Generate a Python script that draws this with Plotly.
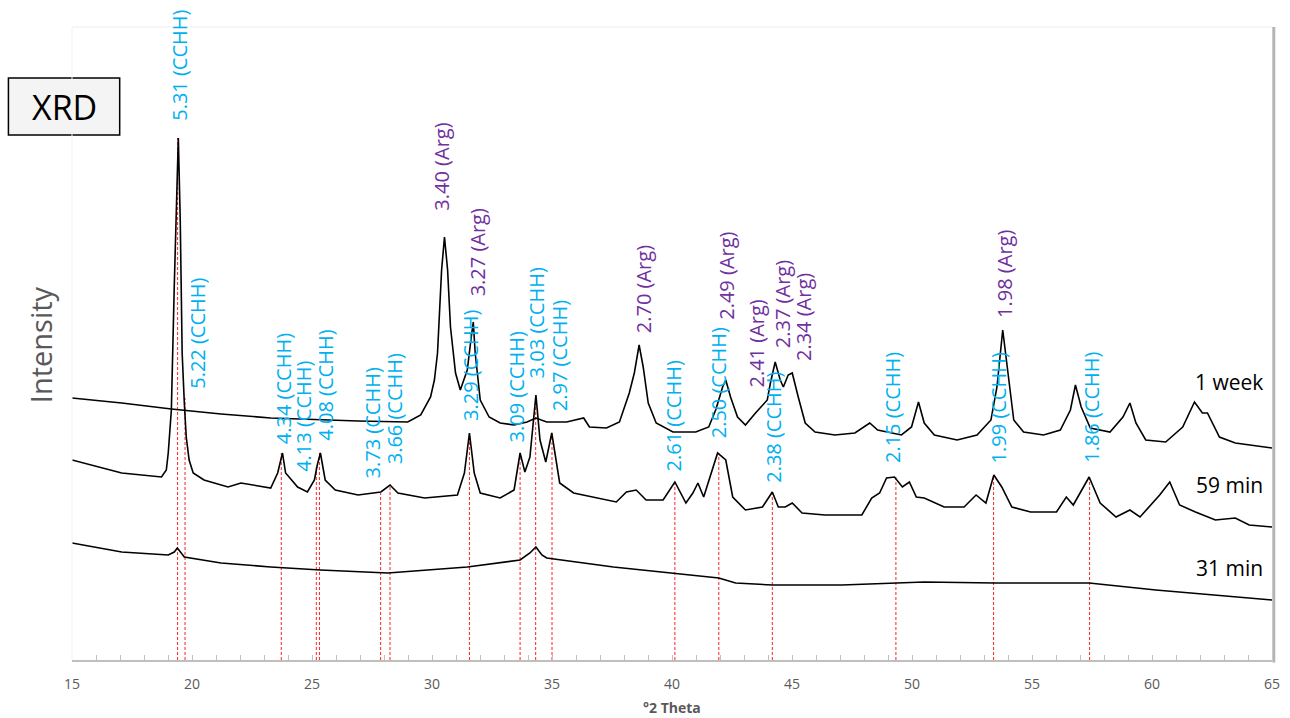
import plotly.graph_objects as go

# ---------------- data (°2θ, intensity in arbitrary units) ----------------
week_x = [15.00, 17.07, 19.14, 21.21, 23.28, 25.35, 26.92, 28.99, 29.53, 29.94, 30.10, 30.23, 30.40, 30.52,
          30.65, 30.77, 30.98, 31.18, 31.47, 31.62, 31.72, 31.80, 32.01, 32.38, 32.84, 33.42, 33.96, 34.33,
          34.78, 35.61, 36.32, 36.56, 37.27, 37.81, 38.22, 38.43, 38.63, 38.80, 39.01, 39.34, 40.04, 40.99,
          41.53, 41.82, 42.11, 42.24, 42.44, 42.73, 43.06, 43.48, 43.77, 43.97, 44.10, 44.30, 44.51, 44.64,
          44.84, 45.01, 45.26, 45.55, 45.96, 46.79, 47.62, 48.24, 48.57, 49.56, 49.98, 50.27, 50.51, 50.93,
          51.88, 52.71, 53.29, 53.54, 53.78, 53.99, 54.24, 54.65, 55.48, 56.18, 56.60, 56.81, 57.05, 57.43,
          58.25, 58.79, 59.08, 59.33, 59.74, 60.57, 61.28, 61.77, 62.10, 62.31, 62.81, 63.47, 65.00]
week_y = [262, 257, 251, 246, 242, 240, 239, 238, 245, 263, 280, 307, 390, 423,
          390, 333, 287, 270, 290, 320, 338, 307, 260, 243, 237, 235, 238, 242,
          238, 238, 242, 233, 232, 238, 267, 287, 315, 293, 257, 237, 228, 228,
          233, 250, 273, 280, 263, 243, 235, 247, 255, 260, 277, 298, 280, 273,
          285, 287, 263, 237, 228, 225, 227, 237, 230, 225, 233, 258, 237, 225,
          220, 225, 240, 273, 330, 287, 240, 228, 225, 230, 250, 275, 253, 232,
          228, 243, 257, 237, 220, 218, 233, 258, 247, 247, 223, 217, 212]

min59_x = [15.00, 17.07, 18.73, 18.93, 19.01, 19.14, 19.26, 19.39, 19.43, 19.51, 19.59, 19.68, 19.76, 19.88,
           20.05, 20.50, 21.50, 22.04, 23.28, 23.57, 23.77, 23.90, 24.40, 24.81, 25.10, 25.22, 25.35, 25.55,
           25.97, 26.92, 27.87, 28.25, 28.58, 29.69, 31.06, 31.35, 31.56, 31.76, 32.01, 32.84, 33.42, 33.67,
           33.87, 34.08, 34.33, 34.50, 34.74, 34.99, 35.20, 35.32, 35.90, 36.85, 37.68, 38.10, 38.51, 38.92,
           39.63, 40.12, 40.58, 40.87, 41.08, 41.32, 41.70, 41.90, 42.24, 42.53, 43.06, 43.77, 44.18, 44.43,
           44.72, 45.01, 45.42, 46.37, 47.91, 48.32, 48.65, 48.94, 49.27, 49.60, 49.89, 50.18, 50.51, 51.34,
           52.17, 52.67, 53.08, 53.41, 53.74, 54.16, 54.94, 56.02, 56.43, 56.72, 57.38, 57.84, 58.50, 59.08,
           59.50, 60.03, 60.32, 60.74, 61.15, 61.81, 62.64, 63.47, 64.05, 65.00]
min59_y = [200, 187, 183, 190, 207, 250, 373, 490, 522, 440, 307, 257, 223, 200,
           187, 180, 173, 177, 172, 187, 207, 187, 173, 168, 180, 195, 207, 180,
           170, 165, 168, 175, 167, 162, 165, 187, 227, 187, 167, 162, 170, 207,
           188, 203, 265, 220, 198, 227, 193, 177, 167, 162, 158, 168, 170, 160,
           160, 178, 157, 167, 177, 163, 193, 207, 200, 163, 150, 153, 168, 153,
           153, 157, 147, 145, 145, 162, 167, 182, 183, 173, 178, 163, 162, 153,
           153, 165, 157, 185, 173, 153, 148, 148, 163, 155, 183, 157, 143, 150,
           143, 157, 165, 178, 155, 148, 140, 142, 135, 133]

min31_x = [15.00, 17.07, 19.01, 19.26, 19.39, 19.51, 19.68, 21.21, 23.28, 25.35, 28.16, 31.47, 33.67, 34.08,
           34.33, 34.58, 34.78, 37.56, 40.12, 41.95, 42.65, 44.18, 47.08, 50.51, 53.45, 57.38, 60.16, 62.56,
           65.00]
min31_y = [117, 108, 105, 108, 112, 108, 103, 97, 93, 90, 87, 93, 100, 107,
           113, 105, 102, 93, 87, 82, 77, 75, 75, 78, 77, 77, 70, 65,
           60]

# CCHH reference lines (°2θ) and the height they reach
ref_x = [19.40, 19.71, 23.72, 25.18, 25.31, 27.86, 28.25, 31.56, 33.67, 34.32, 35.00, 40.12, 41.95, 44.18,
         49.33, 53.40, 57.40]
ref_top = [522, 262, 207, 195, 207, 167, 175, 227, 207, 265, 227, 178, 207, 168, 183, 185, 183]

# peak labels: text, x (°2θ), baseline of the rotated text (intensity units)
cchh_text = ["5.31 (CCHH)", "5.22 (CCHH)", "4.34 (CCHH)", "4.13 (CCHH)", "4.08 (CCHH)", "3.73 (CCHH)",
             "3.66 (CCHH)", "3.29 (CCHH)", "3.09 (CCHH)", "3.03 (CCHH)", "2.97 (CCHH)", "2.61 (CCHH)",
             "2.50 (CCHH)", "2.38 (CCHH)", "2.15 (CCHH)", "1.99 (CCHH)", "1.86 (CCHH)"]
cchh_x = [19.47, 20.22, 23.82, 24.64, 25.55, 27.54, 28.45, 31.60, 33.54, 34.37, 35.32, 40.08, 41.95, 44.22,
          49.19, 53.62, 57.47]
cchh_y = [537, 269, 214, 186, 217, 180, 194, 237, 216, 280, 247, 187, 220, 175, 195, 195, 195]

arg_text = ["3.40 (Arg)", "3.27 (Arg)", "2.70 (Arg)", "2.49 (Arg)", "2.41 (Arg)", "2.37 (Arg)",
            "2.34 (Arg)", "1.98 (Arg)"]
arg_x = [30.36, 31.89, 38.80, 42.24, 43.48, 44.59, 45.46, 53.83]
arg_y = [447, 362, 325, 338, 270, 310, 297, 340]

series_names = ["1 week", "59 min", "31 min"]
series_label_y = [278, 175, 92]

x_ticks = [15, 20, 25, 30, 35, 40, 45, 50, 55, 60, 65]

# ---------------- figure ----------------
FONT = "Open Sans"
CYAN = "#00b0f0"
PURPLE = "#7030a0"

fig = go.Figure()

rx, ry = [], []
for xv, tv in zip(ref_x, ref_top):
    rx += [xv, xv, None]
    ry += [0, tv, None]
fig.add_trace(go.Scatter(x=rx, y=ry, mode="lines",
                         line=dict(color="#ff2020", width=1, dash="3px,2px"),
                         hoverinfo="skip", showlegend=False))

for xs, ys in [(week_x, week_y), (min59_x, min59_y), (min31_x, min31_y)]:
    fig.add_trace(go.Scatter(x=xs, y=ys, mode="lines",
                             line=dict(color="black", width=1.6),
                             showlegend=False))

ann = []
for t, xv, yv in zip(cchh_text, cchh_x, cchh_y):
    ann.append(dict(x=xv, y=yv, xref="x", yref="y", text=t, textangle=-90, showarrow=False,
                    xanchor="center", yanchor="bottom", font=dict(family=FONT, size=20, color=CYAN)))
for t, xv, yv in zip(arg_text, arg_x, arg_y):
    ann.append(dict(x=xv, y=yv, xref="x", yref="y", text=t, textangle=-90, showarrow=False,
                    xanchor="center", yanchor="bottom", font=dict(family=FONT, size=20, color=PURPLE)))
for t, yv in zip(series_names, series_label_y):
    ann.append(dict(x=64.7, y=yv, xref="x", yref="y", text=t, showarrow=False,
                    xanchor="right", yanchor="middle", font=dict(family=FONT, size=21, color="black")))

ann.append(dict(x=-0.0265, y=0.4976, xref="paper", yref="paper", text="Intensity", textangle=-90,
                showarrow=False, xanchor="center", yanchor="middle",
                font=dict(family=FONT, size=29, color="#595959")))
ann.append(dict(x=0.5, y=-0.0758, xref="paper", yref="paper", text="<b>°2 Theta</b>",
                showarrow=False, xanchor="center", yanchor="middle",
                font=dict(family=FONT, size=14, color="#595959")))
ann.append(dict(x=-0.00662, y=0.8744, xref="paper", yref="paper", text="XRD",
                showarrow=False, xanchor="center", yanchor="middle",
                font=dict(family=FONT, size=34, color="black")))

shapes = [
    dict(type="rect", xref="paper", yref="paper", x0=-0.05298, x1=0.03974, y0=0.8294, y1=0.9194,
         line=dict(color="black", width=1.5), fillcolor="#f4f4f4", layer="above"),
    dict(type="line", xref="paper", yref="paper", x0=0, x1=1, y0=1, y1=1,
         line=dict(color="#eeeeee", width=1)),
    dict(type="line", xref="paper", yref="paper", x0=0, x1=0, y0=0, y1=1,
         line=dict(color="#f2f2f2", width=1)),
    dict(type="line", xref="paper", yref="paper", x0=1.0015, x1=1.0015, y0=-0.004, y1=1,
         line=dict(color="#b4b4b4", width=3)),
]

fig.update_layout(
    width=1290, height=718, autosize=False,
    margin=dict(l=72, r=10, t=27, b=58),
    paper_bgcolor="white", plot_bgcolor="white",
    annotations=ann, shapes=shapes,
    xaxis=dict(range=[15, 65], tickvals=x_ticks, ticks="inside", ticklen=5, tickcolor="#bfbfbf",
               showline=True, linecolor="#bfbfbf", linewidth=2, showgrid=False, zeroline=False,
               tickfont=dict(family=FONT, size=14, color="#595959"), ticklabelstandoff=10,
               minor=dict(dtick=1, ticks="inside", ticklen=5, tickcolor="#bfbfbf", showgrid=False)),
    yaxis=dict(range=[0, 633], showticklabels=False, showgrid=False, zeroline=False, showline=False,
               ticks=""),
    showlegend=False,
)

fig.write_html("out.html", config={"responsive": False},
               post_script="document.body.style.margin='0';")
